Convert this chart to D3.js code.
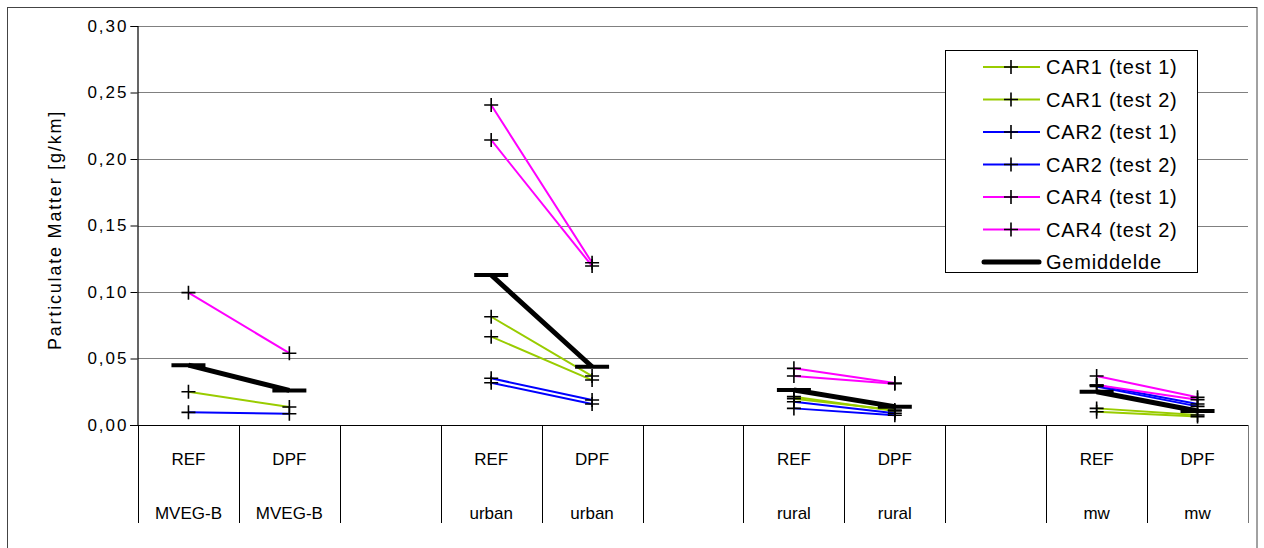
<!DOCTYPE html>
<html>
<head>
<meta charset="utf-8">
<script src="https://cdn.jsdelivr.net/npm/d3@7"></script>
<style>
  html, body { margin: 0; padding: 0; background: #fff; }
  svg { display: block; font-family: "Liberation Sans", Arial, sans-serif; }
</style>
</head>
<body>
<svg id="chart" width="1264" height="548"></svg>
<script>
// ---- data ----
const catTop    = ["REF", "DPF", "", "REF", "DPF", "", "REF", "DPF", "", "REF", "DPF"];
const catBottom = ["MVEG-B", "MVEG-B", "", "urban", "urban", "", "rural", "rural", "", "mw", "mw"];

const car1Test1 = [0.0250, 0.0135, null, 0.0814, 0.0368, null, 0.0213, 0.0105, null, 0.0125, 0.0075];
const car1Test2 = [null,   null,   null, 0.0664, 0.0338, null, 0.0198, 0.0112, null, 0.0100, 0.0063];
const car2Test1 = [0.0095, 0.0085, null, 0.0351, 0.0188, null, 0.0175, 0.0088, null, 0.0300, 0.0158];
const car2Test2 = [null,   null,   null, 0.0318, 0.0158, null, 0.0125, 0.0073, null, 0.0290, 0.0140];
const car4Test1 = [0.0995, 0.0540, null, 0.2406, 0.1220, null, 0.0426, 0.0315, null, 0.0368, 0.0208];
const car4Test2 = [null,   null,   null, 0.2143, 0.1195, null, 0.0368, 0.0310, null, 0.0300, 0.0190];
const average   = [0.0450, 0.0260, null, 0.1128, 0.0438, null, 0.0263, 0.0138, null, 0.0250, 0.0105];

const seriesNames = ["CAR1 (test 1)", "CAR1 (test 2)", "CAR2 (test 1)", "CAR2 (test 2)", "CAR4 (test 1)", "CAR4 (test 2)"];
const seriesValues = [car1Test1, car1Test2, car2Test1, car2Test2, car4Test1, car4Test2];
const seriesColors = ["#99cc00", "#99cc00", "#0000ff", "#0000ff", "#ff00ff", "#ff00ff"];
const averageName = "Gemiddelde";
const yTicks = [0, 0.05, 0.10, 0.15, 0.20, 0.25, 0.30];
const yTitle = "Particulate Matter [g/km]";

// ---- layout ----
const svg = d3.select("#chart");
const pLeft = 138, pRight = 1248, pTop = 26, pBottom = 425;
const x = d3.scaleBand().domain(d3.range(catTop.length)).range([pLeft, pRight]).padding(0);
const y = d3.scaleLinear().domain([0, 0.30]).range([pBottom, pTop]);
const fmt = v => d3.format(".2f")(v).replace(".", ",");

// outer frame
svg.append("rect").attr("x", 7.5).attr("y", 7.5).attr("width", 1249.5).attr("height", 600)
  .attr("fill", "none").attr("stroke", "#444").attr("stroke-width", 1);

// gridlines
svg.append("g").selectAll("line").data(yTicks.filter(d => d > 0)).join("line")
  .attr("x1", pLeft).attr("x2", pRight)
  .attr("y1", d => Math.round(y(d)) + 0.5).attr("y2", d => Math.round(y(d)) + 0.5)
  .attr("stroke", "#808080").attr("stroke-width", 1);

// y axis
const yAxis = svg.append("g").attr("transform", `translate(${pLeft - 0.5},0)`)
  .call(d3.axisLeft(y).tickValues(yTicks).tickFormat(fmt).tickSize(7).tickPadding(4));
yAxis.select(".domain").attr("stroke", "#000").attr("stroke-width", 1.2);
yAxis.selectAll(".tick line").attr("stroke", "#000");
yAxis.selectAll(".tick text").attr("font-size", 17).attr("fill", "#000")
  .attr("font-family", "'Liberation Sans', Arial, sans-serif")
  .style("letter-spacing", "2px").attr("dx", "2px");

// y title
svg.append("text")
  .attr("transform", `translate(61,230) rotate(-90)`)
  .attr("text-anchor", "middle")
  .attr("font-size", 18).style("letter-spacing", "1.8px")
  .text(yTitle);

// category axis line & separators
svg.append("line").attr("x1", pLeft - 8).attr("x2", pRight).attr("y1", pBottom + 0.5).attr("y2", pBottom + 0.5)
  .attr("stroke", "#000").attr("stroke-width", 1.2);
const bounds = d3.range(catTop.length).map(i => x(i)).concat([pRight]);
svg.append("g").selectAll("line").data(bounds).join("line")
  .attr("x1", d => Math.round(d) + 0.5).attr("x2", d => Math.round(d) + 0.5)
  .attr("y1", pBottom).attr("y2", 523)
  .attr("stroke", (d, i) => i === bounds.length - 1 ? "#777" : "#000").attr("stroke-width", 1);

// category labels
const cx = i => x(i) + x.bandwidth() / 2;
svg.append("g").selectAll("text").data(catTop).join("text")
  .attr("x", (d, i) => cx(i)).attr("y", 465).attr("text-anchor", "middle")
  .attr("font-size", 17).text(d => d);
svg.append("g").selectAll("text").data(catBottom).join("text")
  .attr("x", (d, i) => cx(i)).attr("y", 519).attr("text-anchor", "middle")
  .attr("font-size", 17).text(d => d);

// series
const lineFor = vals => d3.line().defined(d => d.v != null).x(d => cx(d.i)).y(d => y(d.v))(vals.map((v, i) => ({ v, i })));
const crossSize = 7;
function drawCross(g, px, py) {
  g.append("path")
    .attr("d", `M${px - crossSize},${py}H${px + crossSize}M${px},${py - crossSize}V${py + crossSize}`)
    .attr("stroke", "#000").attr("stroke-width", 1.6).attr("fill", "none");
}

const plot = svg.append("g");
seriesValues.forEach((vals, s) => {
  plot.append("path").attr("d", lineFor(vals)).attr("fill", "none")
    .attr("stroke", seriesColors[s]).attr("stroke-width", 2);
});
seriesValues.forEach((vals) => {
  vals.forEach((v, i) => { if (v != null) drawCross(plot, cx(i), y(v)); });
});
// average
plot.append("path").attr("d", lineFor(average)).attr("fill", "none")
  .attr("stroke", "#000").attr("stroke-width", 5).attr("stroke-linejoin", "round");
average.forEach((v, i) => {
  if (v != null) plot.append("line").attr("x1", cx(i) - 17).attr("x2", cx(i) + 17)
    .attr("y1", y(v)).attr("y2", y(v)).attr("stroke", "#000").attr("stroke-width", 4);
});

// legend
const lg = svg.append("g");
lg.append("rect").attr("x", 945.5).attr("y", 50.5).attr("width", 252).attr("height", 222)
  .attr("fill", "#fff").attr("stroke", "#000").attr("stroke-width", 1);
const rowY = i => 67 + i * 32.5;
seriesNames.forEach((name, i) => {
  const yy = rowY(i);
  lg.append("line").attr("x1", 983).attr("x2", 1040).attr("y1", yy).attr("y2", yy)
    .attr("stroke", seriesColors[i]).attr("stroke-width", 2);
  drawCross(lg, 1011, yy);
  lg.append("text").attr("x", 1046).attr("y", yy + 7).attr("font-size", 20)
    .style("letter-spacing", "0.8px").text(name);
});
{
  const yy = rowY(6);
  lg.append("line").attr("x1", 984).attr("x2", 1039).attr("y1", yy).attr("y2", yy)
    .attr("stroke", "#000").attr("stroke-width", 5).attr("stroke-linecap", "round");
  lg.append("text").attr("x", 1046).attr("y", yy + 7).attr("font-size", 20)
    .style("letter-spacing", "0.8px").text(averageName);
}
</script>
</body>
</html>
